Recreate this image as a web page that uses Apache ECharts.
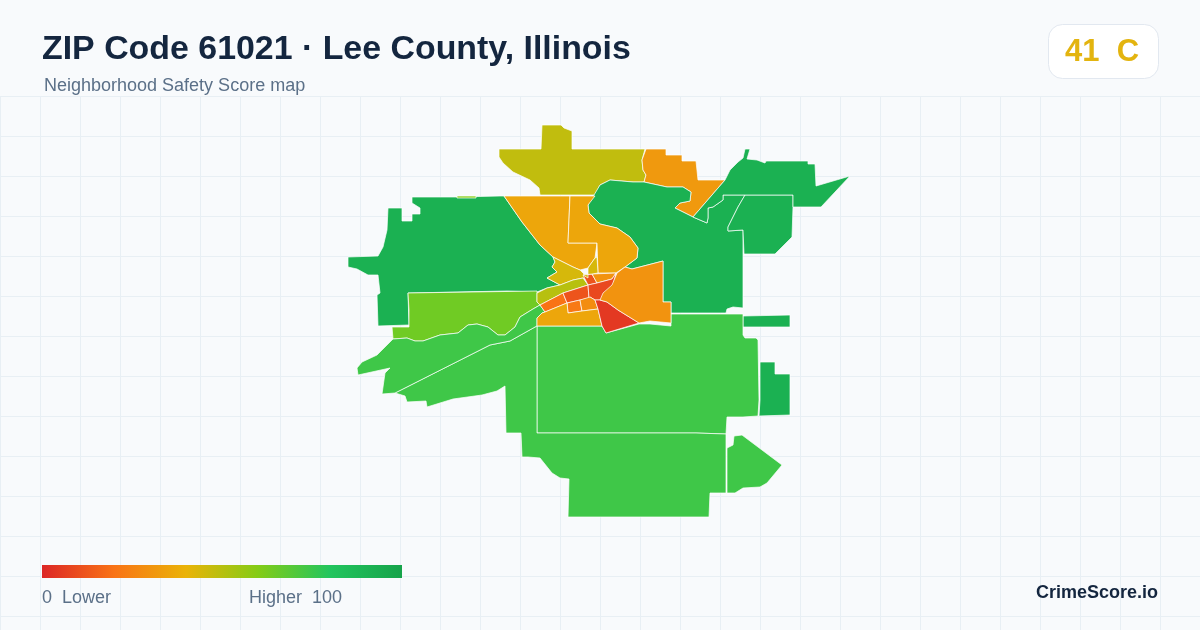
<!DOCTYPE html>
<html><head><meta charset="utf-8">
<style>html,body{margin:0;padding:0;background:#f8fafc}#c{width:1200px;height:630px}</style>
<script src="https://cdn.jsdelivr.net/npm/echarts@6/dist/echarts.min.js"></script>
</head><body><div id="c"></div>
<script>
const titleText = 'ZIP Code 61021 · Lee County, Illinois';
const subtitleText = 'Neighborhood Safety Score map';
const badgeText = '41  C';
const brandText = 'CrimeScore.io';
const legendLowText = '0  Lower';
const legendHighText = 'Higher  100';
const scaleColors = ['#dc2626','#f97316','#eab308','#84cc16','#22c55e','#16a34a'];

const tractNames = ['North','NorthEast','West','Central','FarEast','EastStrip','NorthEastArm','SouthMiddle','EastBlock','SouthWest','SouthEast','Lime','NorthWestBand','WedgeA','MidAmber','Gold','OliveBand','OrangeW','CoreMid','CoreN','CoreNE','CoreE','CoreS1','CoreS2','AmberS','RedS','OrangeE','Sliver','GoldSliver'];
const tractScores = [48,32,92,92,92,92,92,74,92,74,74,64,74,36,36,44,50,20,12,12,30,9,22,28,36,5,30,60,44];
const tractOutlines = [
 [[542,125],[561,125],[564,128],[572,131],[572,149],[645,149],[642,160],[643,170],[646,175],[644,182],[633,182],[610,180],[600,185],[595,195],[540,195],[539,188],[530,180],[513,172],[503,163],[499,157],[499,149],[541,149]],
 [[646,149],[666,149],[666,155],[682,155],[682,161],[696,161],[698,180],[725,180],[693,217],[675,208],[680,203],[690,201],[691,192],[683,187],[667,187],[644,182],[646,175],[643,170],[642,160]],
 [[412,197],[457,197],[500,196],[504,196],[522,222],[540,245],[553,257],[555,262],[552,267],[557,272],[547,278],[560,285],[547,288],[537,292],[507,291],[408,293],[409,325],[378,326],[377,295],[380,293],[378,275],[368,275],[357,269],[348,267],[348,257],[378,256],[383,247],[387,230],[388,208],[402,208],[402,221],[412,221],[412,214],[420,214],[420,208],[412,203]],
 [[600,185],[610,180],[633,182],[644,182],[667,187],[683,187],[691,192],[690,201],[680,203],[675,208],[693,217],[707,223],[708,218],[708,208],[713,207],[723,200],[723,195],[745,195],[738,207],[733,217],[728,227],[728,231],[743,230],[743,308],[733,307],[727,309],[726,313],[671,313],[671,302],[663,302],[663,261],[632,269],[625,267],[637,258],[638,248],[630,237],[617,228],[600,224],[589,213],[588,205]],
 [[745,195],[793,195],[793,207],[792,237],[775,254],[759,254],[744,254],[743,230],[728,231],[728,227],[733,217],[738,207]],
 [[743,316],[790,315],[790,327],[743,327]],
 [[693,217],[725,180],[730,170],[738,162],[743,158],[745,149],[750,149],[747,159],[757,160],[765,163],[766,161],[808,161],[808,164],[815,164],[816,186],[850,176],[821,207],[793,207],[793,195],[745,195],[723,195],[723,200],[713,207],[708,208],[708,218],[707,223]],
 [[537,326],[537,433],[600,433],[696,433],[726,434],[727,417],[743,417],[758,416],[759,400],[758,340],[756,338],[745,338],[743,335],[743,314],[671,314],[671,326],[650,324],[639,324],[606,333],[602,326]],
 [[760,362],[775,362],[775,374],[790,374],[790,415],[759,416],[760,400]],
 [[395,393],[490,345],[510,341],[535,327],[537,326],[537,433],[600,433],[696,433],[726,434],[726,493],[710,493],[709,517],[600,517],[568,517],[569,479],[560,478],[552,473],[540,458],[528,457],[522,457],[521,433],[506,433],[505,386],[497,391],[482,395],[453,399],[427,407],[426,401],[407,402],[405,396]],
 [[727,448],[733,445],[734,436],[742,435],[782,465],[767,483],[760,487],[743,488],[735,493],[727,493]],
 [[408,293],[537,291],[537,302],[540,305],[533,309],[520,317],[515,327],[505,335],[498,335],[488,327],[477,324],[468,325],[458,333],[440,335],[423,341],[415,341],[407,338],[393,339],[392,327],[409,327],[409,310]],
 [[540,305],[533,309],[520,317],[515,327],[505,335],[498,335],[488,327],[477,324],[468,325],[458,333],[440,335],[423,341],[415,341],[407,338],[393,339],[377,355],[362,362],[357,368],[358,375],[390,368],[385,373],[382,394],[395,393],[490,345],[510,341],[535,327],[537,326],[537,318],[542,313],[545,312]],
 [[504,196],[570,196],[568,243],[597,243],[595,258],[590,265],[588,268],[580,270],[573,267],[553,257],[540,245],[522,222]],
 [[570,196],[595,196],[588,205],[589,213],[600,224],[617,228],[630,237],[638,248],[637,258],[625,267],[616,273],[598,273],[597,243],[568,243]],
 [[553,257],[573,267],[580,270],[588,278],[583,278],[573,280],[560,285],[547,278],[557,272],[552,267],[555,262]],
 [[537,293],[547,288],[560,285],[573,280],[583,278],[588,285],[563,293],[540,305],[537,302]],
 [[540,305],[563,293],[567,303],[545,312]],
 [[563,293],[588,285],[589,298],[567,303]],
 [[583,275],[592,274],[597,283],[588,285]],
 [[592,274],[616,273],[612,279],[597,283]],
 [[588,285],[597,283],[612,279],[616,273],[613,285],[610,291],[600,300],[595,300],[590,297],[589,298]],
 [[567,303],[580,300],[582,311],[568,313]],
 [[580,300],[590,297],[595,300],[598,309],[582,311]],
 [[537,326],[537,318],[542,313],[545,312],[567,303],[568,313],[582,311],[598,309],[602,326]],
 [[595,300],[600,300],[607,302],[618,310],[639,323],[606,333],[602,326],[598,309]],
 [[600,300],[603,293],[612,285],[617,273],[625,267],[632,269],[663,261],[663,302],[671,302],[671,323],[650,321],[639,323],[618,310],[607,302]],
 [[457,196],[476,196],[476,198],[457,198]],
 [[588,268],[590,265],[595,258],[597,257],[598,273],[592,274],[583,275],[588,278]]
];

const features = tractNames.map((name,i)=>({type:'Feature',properties:{name},geometry:{type:'Polygon',coordinates:[tractOutlines[i]]}}));
echarts.registerMap('zip61021',{type:'FeatureCollection',features});

const chart = echarts.init(document.getElementById('c'),null,{renderer:'canvas'});
const labelColor='#5b7088', inkColor='#14263f';
const scaleStops = scaleColors.map((color,i)=>({offset:i/(scaleColors.length-1),color}));
chart.setOption({
 animation:false,
 backgroundColor:'#f8fafc',
 grid:{left:0,right:0,top:96,bottom:0},
 xAxis:{type:'value',min:0,max:1200,interval:40,axisLine:{show:false},axisTick:{show:false},axisLabel:{show:false},splitLine:{show:true,lineStyle:{color:'#e8eff4',width:1}}},
 yAxis:{type:'value',inverse:true,min:0,max:534,interval:40,axisLine:{show:false},axisTick:{show:false},axisLabel:{show:false},splitLine:{show:true,lineStyle:{color:'#e8eff4',width:1}}},
 visualMap:{type:'continuous',show:false,min:0,max:100,seriesIndex:0,inRange:{color:scaleColors}},
 series:[{type:'map',map:'zip61021',roam:false,silent:true,left:0,top:0,width:1200,height:630,aspectScale:1,
  boundingCoords:[[0,0],[1200,630]],
  projection:{project:p=>p,unproject:p=>p},
  label:{show:false},emphasis:{disabled:true},
  itemStyle:{borderColor:'#ffffff',borderWidth:0.7},
  data:tractNames.map((name,i)=>({name,value:tractScores[i]}))}],
 graphic:[
  {type:'rect',z:20,shape:{x:42,y:565,width:360,height:13},style:{fill:new echarts.graphic.LinearGradient(0,0,1,0,scaleStops)}},
  {type:'text',z:20,left:42,top:33,style:{text:titleText,font:'bold 33.9px "Liberation Sans"',fill:inkColor}},
  {type:'text',z:20,left:44,top:77,style:{text:subtitleText,font:'18px "Liberation Sans"',fill:labelColor}},
  {type:'rect',z:20,shape:{x:1048.5,y:24.5,width:110,height:54,r:14},style:{fill:'#ffffff',stroke:'#e2e8f0',lineWidth:1}},
  {type:'text',z:21,left:1065,top:37,style:{text:badgeText,font:'bold 31px "Liberation Sans"',fill:'#e3b40f'}},
  {type:'text',z:20,left:42,top:589,style:{text:legendLowText,font:'18px "Liberation Sans"',fill:labelColor}},
  {type:'text',z:20,left:249,top:589,style:{text:legendHighText,font:'18px "Liberation Sans"',fill:labelColor}},
  {type:'text',z:20,left:1036,top:584,style:{text:brandText,font:'bold 18px "Liberation Sans"',fill:inkColor}}
 ]
});
</script></body></html>
